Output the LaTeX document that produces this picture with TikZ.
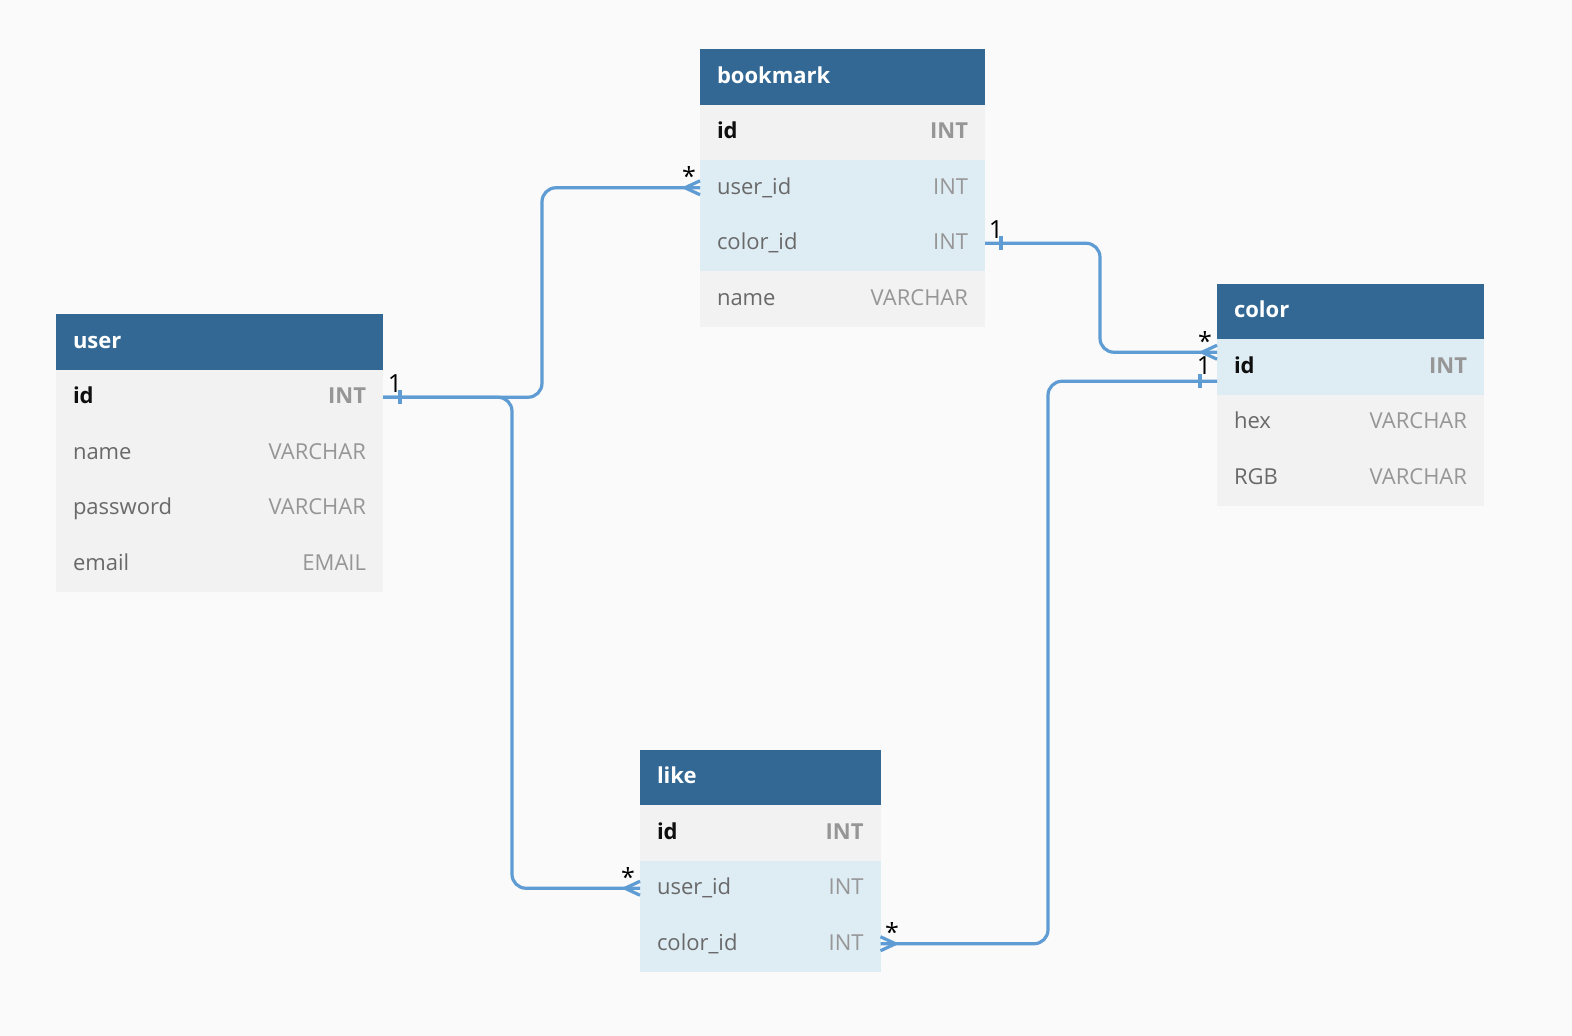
\documentclass[tikz,border=0pt]{standalone}
\usepackage{fontspec}
\setmainfont{Open Sans}
\definecolor{bgc}{RGB}{250,250,250}
\definecolor{hdrc}{RGB}{50,104,147}
\definecolor{rowgc}{RGB}{242,242,242}
\definecolor{rowbc}{RGB}{222,236,244}
\definecolor{fldc}{RGB}{105,105,105}
\definecolor{typc}{RGB}{150,150,150}
\definecolor{idc}{RGB}{15,15,15}
\definecolor{relc}{RGB}{94,156,211}
\newcommand\ty[1]{\hfill{\color{typc}#1}}
\newcommand\tyb[1]{\hfill{\color{typc}\bfseries #1}}
\newcommand\idf{{\color{idc}\bfseries id}}
\begin{document}
\begin{tikzpicture}[x=1pt,y=-1pt,
  every node/.style={outer sep=0pt},
  tbl/.style={anchor=north west, minimum height=55.5pt, inner xsep=17pt, inner ysep=0pt,
    text height=16pt, text depth=3pt, font=\fontsize{22}{26}\selectfont},
  hdr/.style={tbl, fill=hdrc, text=white, font=\fontsize{22}{26}\selectfont\bfseries},
  rowg/.style={tbl, fill=rowgc, text=fldc},
  rowb/.style={tbl, fill=rowbc, text=fldc},
  rel/.style={draw=relc, line width=3.2pt, rounded corners=14pt},
  relmark/.style={draw=relc, line width=3.2pt},
  card/.style={anchor=base, text=black, font=\fontsize{25}{28}\selectfont, inner sep=0pt}]
\useasboundingbox[fill=bgc] (0,0) rectangle (1572,1036);

% user
\node[hdr, text width=293pt] (user-h) at (56,314) {user};
\node[rowg, text width=293pt] (user-id) at (user-h.south west) {\idf\tyb{INT}};
\node[rowg, text width=293pt] (user-name) at (user-id.south west) {name\ty{VARCHAR}};
\node[rowg, text width=293pt] (user-pw) at (user-name.south west) {password\ty{VARCHAR}};
\node[rowg, text width=293pt] (user-em) at (user-pw.south west) {email\ty{EMAIL}};

% bookmark
\node[hdr, text width=251pt] (bm-h) at (700,49) {bookmark};
\node[rowg, text width=251pt] (bm-id) at (bm-h.south west) {\idf\tyb{INT}};
\node[rowb, text width=251pt] (bm-uid) at (bm-id.south west) {user\_id\ty{INT}};
\node[rowb, text width=251pt] (bm-cid) at (bm-uid.south west) {color\_id\ty{INT}};
\node[rowg, text width=251pt] (bm-name) at (bm-cid.south west) {name\ty{VARCHAR}};

% color
\node[hdr, text width=233pt] (cl-h) at (1217,283.5) {color};
\node[rowb, text width=233pt] (cl-id) at (cl-h.south west) {\idf\tyb{INT}};
\node[rowg, text width=233pt] (cl-hex) at (cl-id.south west) {hex\ty{VARCHAR}};
\node[rowg, text width=233pt] (cl-rgb) at (cl-hex.south west) {RGB\ty{VARCHAR}};

% like
\node[hdr, text width=206.5pt] (lk-h) at (640,749.5) {like};
\node[rowg, text width=206.5pt] (lk-id) at (lk-h.south west) {\idf\tyb{INT}};
\node[rowb, text width=206.5pt] (lk-uid) at (lk-id.south west) {user\_id\ty{INT}};
\node[rowb, text width=206.5pt] (lk-cid) at (lk-uid.south west) {color\_id\ty{INT}};

\coordinate (cl-in) at ([yshift=14.5pt]cl-id.west);
\coordinate (cl-out) at ([yshift=-14.5pt]cl-id.west);

% connectors
\draw[rel] (user-id.east) -- ++(159,0) |- (bm-uid.west);
\draw[rel] (user-id.east) -- ++(129,0) |- (lk-uid.west);
\draw[rel] (bm-cid.east) -- ++(115,0) |- (cl-in);
\draw[rel] (cl-out) -- ++(-169,0) |- (lk-cid.east);

% one-ticks
\draw[relmark] ([xshift=17pt]user-id.east) ++(0,-7) -- ++(0,14);
\draw[relmark] ([xshift=16pt]bm-cid.east) ++(0,-7) -- ++(0,14);
\draw[relmark] ([xshift=-17pt]cl-out) ++(0,-7) -- ++(0,14);

% crow's feet
\draw[relmark] (bm-uid.west) ++(-15,0) -- ++(15,-7) (bm-uid.west) ++(-15,0) -- ++(15,7);
\draw[relmark] (lk-uid.west) ++(-15,0) -- ++(15,-7) (lk-uid.west) ++(-15,0) -- ++(15,7);
\draw[relmark] (cl-in) ++(-15,0) -- ++(15,-7) (cl-in) ++(-15,0) -- ++(15,7);
\draw[relmark] (lk-cid.east) ++(15,0) -- ++(-15,-7) (lk-cid.east) ++(15,0) -- ++(-15,7);

% cardinalities
\node[card] (c1) at ([shift={(12,-5)}]user-id.east) {1};
\node[card] (c2) at ([shift={(-11,-2)}]bm-uid.west) {*};
\node[card] (c3) at ([shift={(11,-4.3)}]bm-cid.east) {1};
\node[card] (c4) at ([shift={(-12,-2)}]cl-in) {*};
\node[card] (c5) at ([shift={(-13,-6.3)}]cl-out) {1};
\node[card] (c6) at ([shift={(-12,-2.25)}]lk-uid.west) {*};
\node[card] (c7) at ([shift={(11.5,-2.75)}]lk-cid.east) {*};
\end{tikzpicture}
\end{document}
